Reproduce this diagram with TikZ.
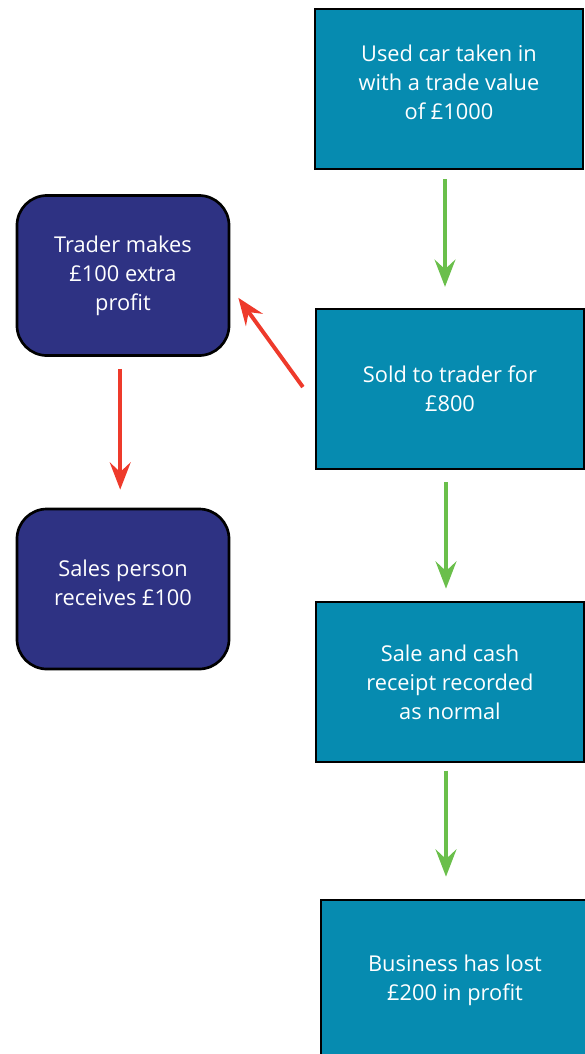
\documentclass[tikz,border=0pt]{standalone}
\usepackage{fontspec}
\setmainfont{Open Sans}
\usepackage[HTML]{xcolor}
\usepackage{tikz}
\usetikzlibrary{positioning, arrows.meta}

\definecolor{boxteal}{HTML}{068BB0}
\definecolor{boxnavy}{HTML}{2E3283}
\definecolor{arrgreen}{HTML}{6ABF4B}
\definecolor{arrred}{HTML}{EE3A2B}

\begin{document}
\begin{tikzpicture}[x=0.025cm, y=-0.025cm,
  stagebox/.style={draw=black, line width=1.9pt, fill=boxteal, text=white, align=center,
    minimum width=6.7cm, minimum height=4cm, font=\fontsize{15.5}{20.6}\selectfont},
  sidebox/.style={stagebox, fill=boxnavy, rounded corners=0.75cm, minimum width=5.3cm},
  greenarr/.style={draw=arrgreen, line width=2.8pt,
    -{Stealth[length=0.68cm, width=0.52cm, inset=0.24cm]}},
  redarr/.style={greenarr, draw=arrred}]
\useasboundingbox (0,0) rectangle (585,1054);

% Main column
\node[stagebox] (usedcar) at (449,89) {Used car taken in\\with a trade value\\of £1000\\[-0.37cm]};
\node[stagebox] (sold) at (450,389) {Sold to trader for\\£800};
\node[stagebox] (recorded) at (450,682) {Sale and cash\\receipt recorded\\as normal};
\node[stagebox] (lost) at (455,980) {Business has lost\\£200 in profit};

% Side column
\node[sidebox] (trader) at (123,275.5) {Trader makes\\£100 extra\\profit};
\node[sidebox] (salesperson) at (123,589) {Sales person\\receives £100\\[-0.42cm]};

% Green flow
\draw[greenarr, shorten <=0.22cm, shorten >=0.52cm] ([xshift=-0.1cm]usedcar.south) -- ([xshift=-0.1cm]usedcar.south |- sold.north);
\draw[greenarr, shorten <=0.3cm, shorten >=0.3cm] ([xshift=-0.1cm]sold.south) -- ([xshift=-0.1cm]sold.south |- recorded.north);
\draw[greenarr, shorten <=0.18cm, shorten >=0.55cm] ([xshift=-0.1cm]recorded.south) -- ([xshift=-0.1cm]recorded.south |- lost.north);

% Red flow
\draw[redarr, shorten <=0.5cm, shorten >=0.34cm] (sold.186) -- (trader.-6);
\draw[redarr, shorten <=0.3cm, shorten >=0.45cm] ([xshift=-0.07cm]trader.south) -- ([xshift=-0.07cm]salesperson.north);
\end{tikzpicture}
\end{document}
